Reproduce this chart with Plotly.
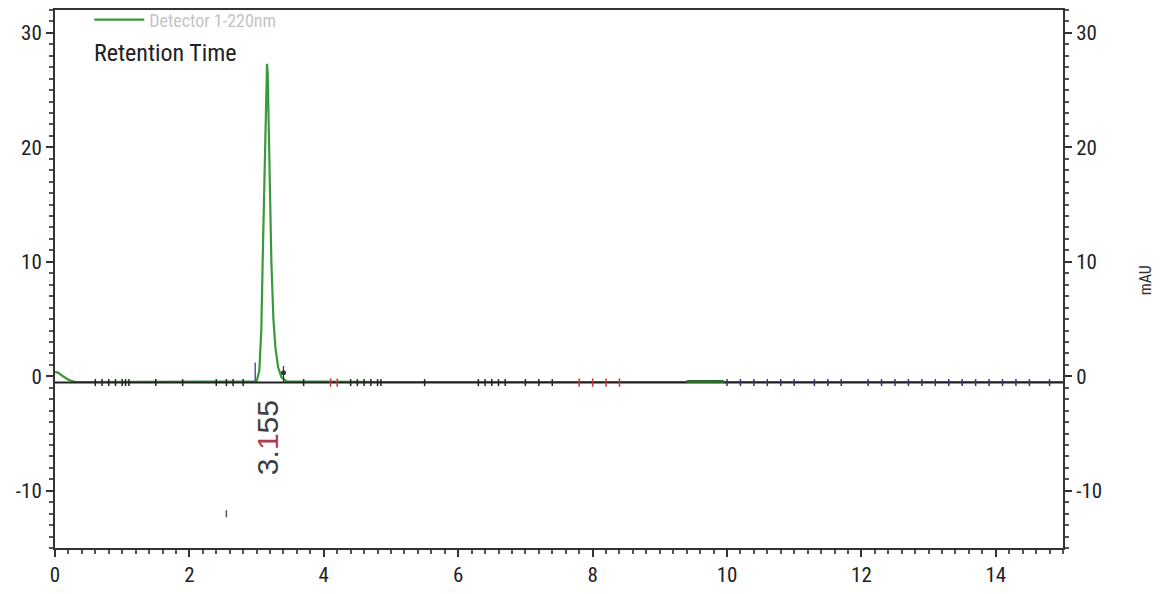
import plotly.graph_objects as go

# Chromatogram (green, Detector 1-220nm)
time_min = [0.0, 0.05, 0.12, 0.2, 0.3, 1.0, 2.0, 2.9, 3.0, 3.04, 3.07, 3.09, 3.11, 3.13, 3.145, 3.155,
            3.165, 3.18, 3.2, 3.22, 3.25, 3.28, 3.32, 3.37, 3.45, 5.0, 8.0, 11.0, 15.0]
signal_mau = [0.4, 0.3, 0.0, -0.3, -0.5, -0.5, -0.5, -0.5, -0.45, 0.5, 4.0, 10.0, 16.0, 22.5, 26.5, 27.3,
              26.5, 22.0, 16.0, 10.0, 5.0, 2.5, 0.8, -0.1, -0.45, -0.5, -0.5, -0.5, -0.5]

# Integration baseline
base_x = [0.0, 15.0]
base_y = [-0.55, -0.55]

# Integration event marks along the baseline
black_marks = [0.6, 0.7, 0.8, 0.9, 1.0, 1.05, 1.1, 1.5, 1.9, 2.4, 2.55, 2.65, 2.8, 3.7, 4.4, 4.5, 4.6,
               4.7, 4.8, 4.85, 5.5, 6.3, 6.4, 6.5, 6.6, 6.7, 7.0, 7.2, 7.4]
red_marks = [4.1, 4.2, 7.8, 8.0, 8.2, 8.4]
blue_marks = [10.0, 10.2, 10.4, 10.6, 10.8, 11.0, 11.3, 11.5, 11.7, 12.1, 12.3, 12.5, 12.7, 12.9, 13.1,
              13.3, 13.5, 13.7, 13.9, 14.1, 14.3, 14.5, 14.8]
green_seg_x = [9.4, 9.95]
green_seg_y = [-0.45, -0.45]

peak_rt = 3.155
x_ticks = [0, 2, 4, 6, 8, 10, 12, 14]
x_labels = ["0", "2", "4", "6", "8", "10", "12", "14"]
y_ticks = [-10, 0, 10, 20, 30]
y_labels = ["-10", "0", "10", "20", "30"]

FONT = "Roboto Condensed, Liberation Sans Narrow, sans-serif"

fig = go.Figure()
fig.add_trace(go.Scatter(x=time_min, y=signal_mau, mode="lines", name="Detector 1-220nm",
                         line=dict(color="#3a9a3a", width=2.2), showlegend=True))
fig.add_trace(go.Scatter(x=base_x, y=base_y, mode="lines", line=dict(color="#222222", width=2),
                         showlegend=False, hoverinfo="skip"))
fig.add_trace(go.Scatter(x=green_seg_x, y=green_seg_y, mode="lines", line=dict(color="#2e6b2e", width=3),
                         showlegend=False, hoverinfo="skip"))
fig.add_trace(go.Scatter(x=black_marks, y=[-0.55] * len(black_marks), mode="markers",
                         marker=dict(symbol="line-ns", size=5, line=dict(color="#222222", width=1.5)),
                         showlegend=False, hoverinfo="skip"))
fig.add_trace(go.Scatter(x=red_marks, y=[-0.55] * len(red_marks), mode="markers",
                         marker=dict(symbol="line-ns", size=6, line=dict(color="#cc3333", width=1.5)),
                         showlegend=False, hoverinfo="skip"))
fig.add_trace(go.Scatter(x=blue_marks, y=[-0.55] * len(blue_marks), mode="markers",
                         marker=dict(symbol="line-ns", size=5, line=dict(color="#33337a", width=1.5)),
                         showlegend=False, hoverinfo="skip"))
# peak start / end markers
fig.add_trace(go.Scatter(x=[2.98, 2.98], y=[-0.5, 1.2], mode="lines", line=dict(color="#5555aa", width=1.5),
                         showlegend=False, hoverinfo="skip"))
fig.add_trace(go.Scatter(x=[3.4, 3.4], y=[-0.5, 0.9], mode="lines", line=dict(color="#333333", width=1.2),
                         showlegend=False, hoverinfo="skip"))
fig.add_trace(go.Scatter(x=[3.4], y=[0.3], mode="markers", marker=dict(color="#333333", size=5),
                         showlegend=False, hoverinfo="skip"))
fig.add_trace(go.Scatter(x=[2.55], y=[-12.0], mode="markers",
                         marker=dict(symbol="line-ns", size=5, line=dict(color="#555555", width=1.5)),
                         showlegend=False, hoverinfo="skip"))
# invisible trace for right axis
fig.add_trace(go.Scatter(x=[0], y=[0], yaxis="y2", mode="markers", marker=dict(opacity=0),
                         showlegend=False, hoverinfo="skip"))

rt_txt = f"{peak_rt:.3f}"
rt_html = rt_txt[:2] + "<span style='color:#b03a48'>" + rt_txt[2] + "</span>" + rt_txt[3:]
fig.add_annotation(x=peak_rt, y=-5.4, text=rt_html, textangle=-90, showarrow=False,
                   font=dict(family="Liberation Sans, Arial, sans-serif", size=30, color="#404040"))
fig.add_annotation(xref="paper", yref="paper", x=0.037, y=0.92, text="Retention Time", showarrow=False,
                   xanchor="left", yanchor="middle", font=dict(family=FONT, size=24, color="#222222"))
fig.add_annotation(xref="paper", yref="paper", x=1.093, y=0.498, text="mAU", textangle=-90, showarrow=False,
                   font=dict(family=FONT, size=16, color="#333333"))

axis_common = dict(showline=True, linecolor="#333333", linewidth=2, ticks="outside", ticklen=7,
                   tickwidth=1.5, tickcolor="#333333", showgrid=False, zeroline=False, automargin=False,
                   tickfont=dict(family=FONT, size=21, color="#222222"))

fig.update_layout(
    width=1149, height=578,
    paper_bgcolor="white", plot_bgcolor="white",
    margin=dict(l=47, r=94, t=2, b=38, autoexpand=False),
    xaxis=dict(range=[0, 15], tickvals=x_ticks, ticktext=x_labels, mirror=True,
               minor=dict(dtick=0.2, ticklen=4, tickcolor="#555555", ticks="outside"), **axis_common),
    yaxis=dict(range=[-15, 32], tickvals=y_ticks, ticktext=y_labels,
               minor=dict(dtick=1, ticklen=4, tickcolor="#555555", ticks="outside"), **axis_common),
    yaxis2=dict(range=[-15, 32], tickvals=y_ticks, ticktext=y_labels, overlaying="y", side="right",
                minor=dict(dtick=1, ticklen=4, tickcolor="#555555", ticks="outside"), **axis_common),
    legend=dict(x=0.034, y=1.016, xanchor="left", yanchor="top", bgcolor="rgba(0,0,0,0)",
                itemwidth=50, font=dict(family=FONT, size=18, color="#c4c4c4"), tracegroupgap=0),
    showlegend=True,
)

fig.write_html("out.html")
